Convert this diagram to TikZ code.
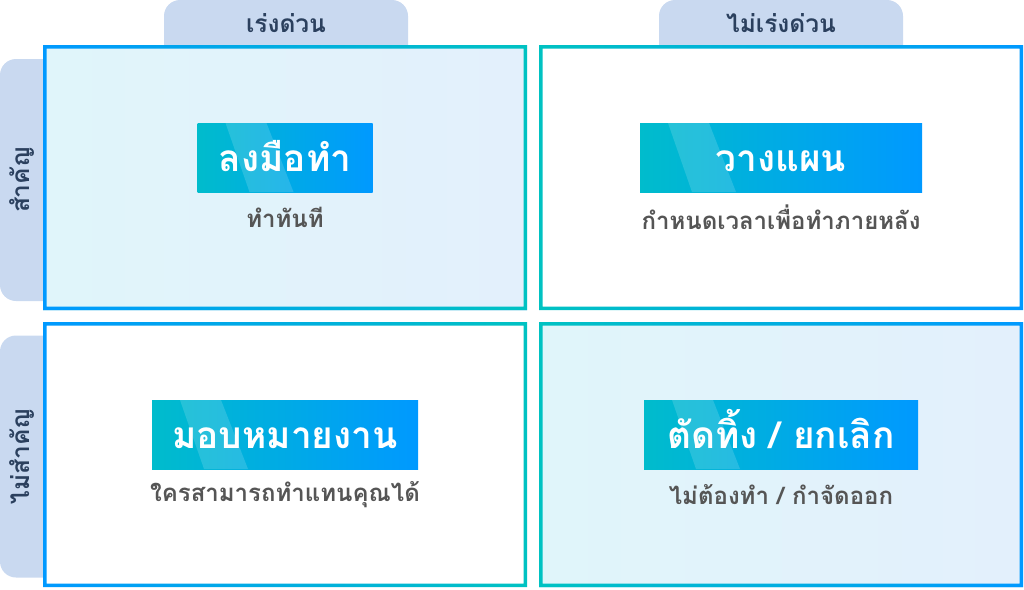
\documentclass[tikz,border=0pt]{standalone}
\usepackage{fontspec}
\newfontfamily\thaifont[Script=Thai]{Loma}
\usetikzlibrary{positioning}
\definecolor{tabbg}{HTML}{C9D9F0}
\definecolor{ink}{HTML}{2B405E}
\definecolor{te}{HTML}{00C2C2}
\definecolor{bu}{HTML}{0099FF}
\definecolor{tt}{HTML}{00BCCC}
\definecolor{sub}{HTML}{555555}
\definecolor{lc}{HTML}{E0F5FA}
\definecolor{lb}{HTML}{E3F0FC}

\tikzset{
  tabtop/.style  = {fill=tabbg, rounded corners=16pt, minimum width=244pt, minimum height=90pt, inner sep=0pt},
  tabside/.style = {fill=tabbg, rounded corners=16pt, minimum width=86pt, minimum height=242pt, inner sep=0pt},
  tabtext/.style = {text=ink, font=\thaifont\bfseries\fontsize{24.5}{28}\selectfont, inner sep=0pt},
  quad/.style    = {minimum width=484pt, minimum height=265pt, inner sep=0pt, outer sep=0pt},
  title/.style   = {left color=tt, right color=bu, text=white, inner sep=0pt,
                    text height=28pt, text depth=0pt,
                    minimum height=69pt, font=\thaifont\bfseries\fontsize{37}{40}\selectfont,
                    path picture={\fill[white, opacity=0.15]
                      ([xshift=28pt]path picture bounding box.north west) --
                      ([xshift=69pt]path picture bounding box.north west) --
                      ([xshift=96pt]path picture bounding box.south west) --
                      ([xshift=52pt]path picture bounding box.south west) -- cycle;}},
  subt/.style    = {text=sub, font=\thaifont\bfseries\fontsize{24}{26}\selectfont, inner sep=0pt}
}

\begin{document}
\begin{tikzpicture}[x=1pt, y=-1pt]
  \useasboundingbox (0,0) rectangle (1024,589);

  % tabs
  \node[tabtop]  (tabU)  at (286,45)  {};
  \node[tabtop]  (tabNU) at (781,45)  {};
  \node[tabside] (tabI)  at (43,180)  {};
  \node[tabside] (tabNI) at (43,456.5) {};

  % quadrants
  \node[quad, left color=lc, right color=lb] (qTL) at (285,177.5) {};
  \node[quad, fill=white]                    (qTR) at (781,177.5) {};
  \node[quad, fill=white]                    (qBL) at (285,454.5) {};
  \node[quad, left color=lc, right color=lb] (qBR) at (781,454.5) {};

  \shade[left color=bu, right color=te, even odd rule]
    (qTL.south west) rectangle (qTL.north east)
    ([xshift=3.5pt, yshift=3.5pt]qTL.south west) rectangle ([xshift=-3.5pt, yshift=-3.5pt]qTL.north east);
  \shade[left color=te, right color=bu, even odd rule]
    (qTR.south west) rectangle (qTR.north east)
    ([xshift=3.5pt, yshift=3.5pt]qTR.south west) rectangle ([xshift=-3.5pt, yshift=-3.5pt]qTR.north east);
  \shade[left color=bu, right color=te, even odd rule]
    (qBL.south west) rectangle (qBL.north east)
    ([xshift=3.5pt, yshift=3.5pt]qBL.south west) rectangle ([xshift=-3.5pt, yshift=-3.5pt]qBL.north east);
  \shade[left color=te, right color=bu, even odd rule]
    (qBR.south west) rectangle (qBR.north east)
    ([xshift=3.5pt, yshift=3.5pt]qBR.south west) rectangle ([xshift=-3.5pt, yshift=-3.5pt]qBR.north east);

  % tab labels
  \node[tabtext] (lU)  at (286,23) {เร่งด่วน};
  \node[tabtext] (lNU) at (781,23) {ไม่เร่งด่วน};
  \node[tabtext, rotate=90] (lI)  at (22,180)   {สำคัญ};
  \node[tabtext, rotate=90] (lNI) at (22,456.5) {ไม่สำคัญ};

  % titles
  \node[title, minimum width=175pt] (tDo)   at ([yshift=20pt]qTL.center) {ลงมือทำ};
  \node[title, minimum width=282pt] (tPlan) at ([yshift=20pt]qTR.center) {วางแผน};
  \node[title, minimum width=266pt] (tDel)  at ([yshift=20pt]qBL.center) {มอบหมายงาน};
  \node[title, minimum width=274pt] (tDrop) at ([yshift=20pt]qBR.center) {ตัดทิ้ง / ยกเลิก};

  \node[subt, below=25pt of tDo.south, anchor=center]   (sDo)   {ทำทันที};
  \node[subt, below=25pt of tPlan.south, anchor=center] (sPlan) {กำหนดเวลาเพื่อทำภายหลัง};
  \node[subt, below=25pt of tDel.south, anchor=center]  (sDel)  {ใครสามารถทำแทนคุณได้};
  \node[subt, below=25pt of tDrop.south, anchor=center] (sDrop) {ไม่ต้องทำ / กำจัดออก};
\end{tikzpicture}
\end{document}
